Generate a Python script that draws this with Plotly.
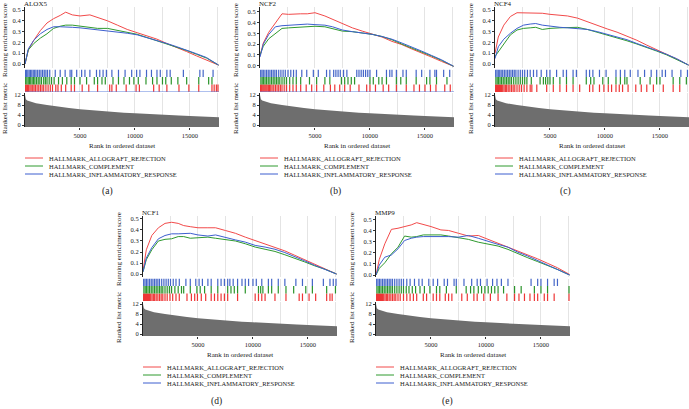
import plotly.graph_objects as go

W, H = 689, 409
XMAX = 17640
FONT = "Liberation Serif, DejaVu Serif, serif"

# ---------------- data ----------------
GENES = ["ALOX5", "NCF2", "NCF4", "NCF1", "MMP9"]
PANEL_LABELS = ["(a)", "(b)", "(c)", "(d)", "(e)"]
SETS = ["HALLMARK_ALLOGRAFT_REJECTION", "HALLMARK_COMPLEMENT", "HALLMARK_INFLAMMATORY_RESPONSE"]

RANK_GRID = [0, 300, 800, 1400, 2000, 2600, 3200, 3700, 4300, 5000, 5900, 6600, 7500, 8400,
             9300, 10200, 11100, 12000, 12900, 13800, 14700, 15600, 16500, 17600]

ALOX5_ALLOGRAFT = [0.0, 0.13, 0.22, 0.31, 0.38, 0.42, 0.45, 0.48, 0.455, 0.445, 0.455, 0.43, 0.40, 0.36,
                   0.32, 0.29, 0.26, 0.23, 0.19, 0.155, 0.115, 0.075, 0.037, -0.01]
ALOX5_COMPLEMENT = [0.0, 0.13, 0.19, 0.24, 0.28, 0.33, 0.35, 0.36, 0.36, 0.35, 0.34, 0.33, 0.33, 0.31,
                    0.29, 0.275, 0.245, 0.215, 0.19, 0.16, 0.125, 0.09, 0.055, -0.01]
ALOX5_INFLAM = [0.0, 0.14, 0.22, 0.28, 0.32, 0.345, 0.345, 0.345, 0.34, 0.335, 0.325, 0.315, 0.305, 0.30,
                0.285, 0.27, 0.245, 0.22, 0.19, 0.16, 0.13, 0.095, 0.06, -0.01]

NCF2_ALLOGRAFT = [0.09, 0.21, 0.31, 0.40, 0.48, 0.475, 0.48, 0.48, 0.48, 0.49, 0.46, 0.43, 0.385, 0.35,
                  0.32, 0.295, 0.265, 0.225, 0.195, 0.155, 0.12, 0.08, 0.04, -0.005]
NCF2_COMPLEMENT = [0.10, 0.18, 0.25, 0.30, 0.345, 0.35, 0.355, 0.36, 0.365, 0.365, 0.36, 0.345, 0.32, 0.315,
                   0.305, 0.29, 0.27, 0.24, 0.20, 0.165, 0.13, 0.09, 0.05, -0.005]
NCF2_INFLAM = [0.08, 0.20, 0.29, 0.36, 0.37, 0.375, 0.375, 0.38, 0.385, 0.38, 0.375, 0.36, 0.33, 0.315,
               0.305, 0.29, 0.27, 0.245, 0.21, 0.175, 0.135, 0.095, 0.055, -0.005]

NCF4_ALLOGRAFT = [0.10, 0.25, 0.36, 0.44, 0.475, 0.475, 0.47, 0.47, 0.47, 0.46, 0.455, 0.445, 0.425, 0.39,
                  0.355, 0.325, 0.295, 0.26, 0.22, 0.175, 0.13, 0.09, 0.048, -0.01]
NCF4_COMPLEMENT = [0.07, 0.115, 0.19, 0.27, 0.315, 0.33, 0.335, 0.34, 0.32, 0.33, 0.335, 0.335, 0.34, 0.32,
                   0.295, 0.265, 0.245, 0.215, 0.185, 0.155, 0.12, 0.085, 0.045, -0.01]
NCF4_INFLAM = [0.05, 0.16, 0.23, 0.285, 0.33, 0.36, 0.37, 0.375, 0.36, 0.35, 0.34, 0.335, 0.33, 0.32,
               0.30, 0.275, 0.25, 0.225, 0.19, 0.16, 0.125, 0.09, 0.05, -0.01]

NCF1_ALLOGRAFT = [0.03, 0.22, 0.35, 0.42, 0.46, 0.47, 0.46, 0.44, 0.43, 0.42, 0.42, 0.42, 0.395, 0.37,
                  0.335, 0.305, 0.275, 0.245, 0.21, 0.17, 0.13, 0.09, 0.05, 0.0]
NCF1_COMPLEMENT = [0.02, 0.13, 0.22, 0.30, 0.315, 0.32, 0.34, 0.34, 0.325, 0.33, 0.335, 0.325, 0.31, 0.30,
                   0.275, 0.245, 0.225, 0.205, 0.175, 0.145, 0.11, 0.075, 0.045, 0.0]
NCF1_INFLAM = [0.02, 0.145, 0.24, 0.32, 0.35, 0.365, 0.365, 0.37, 0.37, 0.355, 0.345, 0.355, 0.33, 0.31,
               0.29, 0.26, 0.245, 0.225, 0.195, 0.16, 0.12, 0.08, 0.045, 0.0]

MMP9_ALLOGRAFT = [0.0, 0.14, 0.28, 0.41, 0.42, 0.435, 0.45, 0.47, 0.455, 0.435, 0.405, 0.40, 0.375, 0.35,
                  0.355, 0.32, 0.29, 0.255, 0.215, 0.18, 0.145, 0.105, 0.065, 0.005]
MMP9_COMPLEMENT = [0.0, 0.06, 0.11, 0.19, 0.25, 0.35, 0.34, 0.345, 0.36, 0.36, 0.36, 0.35, 0.335, 0.32,
                   0.295, 0.28, 0.26, 0.23, 0.19, 0.155, 0.12, 0.085, 0.05, 0.0]
MMP9_INFLAM = [0.0, 0.09, 0.16, 0.18, 0.235, 0.31, 0.33, 0.34, 0.345, 0.345, 0.35, 0.345, 0.34, 0.355,
               0.33, 0.30, 0.275, 0.25, 0.205, 0.17, 0.13, 0.095, 0.055, 0.0]

# gene-set hit positions (rank in ordered dataset)
ALOX5_HITS_ALLOGRAFT = [40, 120, 220, 330, 450, 560, 700, 820, 950, 1100, 1250, 1400, 1550, 1700, 1900, 2100, 2300, 2500,
                        2800, 3000, 3300, 3700, 4200, 4500, 5200, 5800, 6600, 7700, 7900, 8300, 9200, 10100, 10400,
                        11700, 12200, 12900, 14000, 14900, 15800, 17000, 17200, 17400, 17550]
ALOX5_HITS_COMPLEMENT = [60, 170, 290, 400, 520, 650, 780, 900, 1050, 1200, 1350, 1500, 1700, 1850, 2000, 2200, 2400,
                         2650, 3050, 3400, 3800, 4200, 4500, 5000, 5600, 6300, 6600, 7000, 7300, 8000, 8500, 9000,
                         9500, 9900, 10300, 11000, 11600, 12000, 12500, 12800, 13300, 13900, 14700, 15800, 16700, 17000]
ALOX5_HITS_INFLAM = [50, 150, 260, 380, 500, 620, 750, 880, 1000, 1150, 1300, 1450, 1600, 1750, 1900, 2050, 2250, 2750,
                     3200, 3650, 4100, 4250, 4700, 5150, 5450, 5900, 6500, 6800, 7100, 7400, 7900, 8500, 9100, 9700,
                     10150, 10450, 11050, 11500, 12000, 12300, 12900, 13200, 14400, 15900, 16200, 17100]

NCF2_HITS_ALLOGRAFT = [40, 120, 200, 290, 380, 470, 560, 650, 760, 870, 980, 1100, 1250, 1400, 1550, 1700, 1850, 2000,
                       2200, 2400, 2700, 3000, 3300, 3700, 4200, 4700, 5150, 5800, 6400, 6800, 7250, 7700, 8200, 9000,
                       9700, 10000, 10500, 11200, 11700, 12400, 13300, 14000, 14500, 15000, 15500, 16000, 16800, 17300]
NCF2_HITS_COMPLEMENT = [80, 200, 330, 460, 600, 750, 900, 1050, 1200, 1350, 1500, 1650, 1800, 2000, 2200, 2400, 2700,
                        3000, 3300, 3700, 4500, 5150, 5900, 6350, 7400, 7700, 8000, 8300, 8600, 10000, 10300, 10800,
                        11100, 11500, 12400, 12800, 13300, 14200, 15150, 15450, 16050, 17000]
NCF2_HITS_INFLAM = [60, 180, 300, 450, 600, 750, 900, 1050, 1200, 1350, 1500, 1700, 1900, 2100, 2300, 2550, 2800, 3050,
                    3300, 3800, 4250, 4850, 5300, 6050, 6350, 6700, 6900, 7100, 7300, 7600, 7900, 8800, 9000, 9200,
                    9400, 9600, 9800, 10000, 10600, 11500, 11800, 12000, 12400, 13000, 13300, 14200, 14700, 15450,
                    15900, 16050, 16700, 17250]

NCF4_HITS_ALLOGRAFT = [40, 130, 220, 310, 400, 500, 600, 700, 820, 940, 1060, 1200, 1350, 1500, 1650, 1800, 2000, 2200,
                       2400, 2650, 2900, 3200, 3350, 3800, 4700, 5300, 5900, 6500, 7100, 7700, 8600, 8900, 9500, 9900,
                       10300, 10600, 11000, 11300, 11600, 12100, 12800, 13300, 13800, 14400, 15300, 16200, 16800]
NCF4_HITS_COMPLEMENT = [80, 200, 330, 460, 600, 750, 900, 1050, 1200, 1350, 1500, 1700, 1900, 2100, 2300, 2500, 2700,
                        2900, 3300, 4100, 4400, 4600, 4800, 5000, 5300, 5900, 6500, 7100, 8300, 8700, 9000, 9800,
                        10300, 11000, 11400, 11800, 12000, 13200, 14100, 14700, 15000, 16200, 16800, 17400]
NCF4_HITS_INFLAM = [60, 180, 300, 430, 560, 700, 850, 1000, 1150, 1300, 1450, 1600, 1750, 1900, 2100, 2300, 2500, 2700,
                    2950, 3200, 3500, 3800, 4200, 4700, 5000, 5600, 6200, 6500, 7100, 7400, 8300, 8600, 8900, 9500,
                    10100, 11000, 11400, 11800, 12300, 13000, 13600, 14200, 14700, 15200, 15500, 16100, 16900, 17500]

NCF1_HITS_ALLOGRAFT = [40, 130, 220, 310, 400, 500, 600, 700, 820, 940, 1060, 1200, 1350, 1500, 1650, 1800, 2000, 2200,
                       2450, 2700, 3000, 3300, 4000, 4400, 4700, 4950, 5300, 5700, 6200, 6500, 6800, 7100, 7400, 7700,
                       8600, 10200, 10500, 10800, 11100, 12000, 13000, 14200, 14500, 15100, 15700, 16700, 17000, 17200]
NCF1_HITS_COMPLEMENT = [80, 200, 330, 460, 600, 750, 900, 1050, 1200, 1350, 1500, 1650, 1800, 2000, 2200, 2400, 2600,
                        2900, 3200, 3500, 3700, 4300, 4900, 5200, 5600, 6200, 6800, 7700, 8000, 8300, 8600, 9300,
                        10500, 10700, 10900, 11400, 11700, 12300, 13000, 13700, 14800, 15400, 16700, 17500]
NCF1_HITS_INFLAM = [60, 180, 310, 450, 600, 750, 900, 1050, 1200, 1350, 1500, 1700, 1900, 2100, 2300, 2500, 2750, 3000,
                    3300, 3900, 4300, 4800, 5100, 5400, 5900, 6200, 6800, 7100, 7400, 7700, 7900, 8200, 8600, 9000,
                    9300, 9600, 10000, 10300, 10800, 11400, 11700, 12300, 12900, 13900, 14500, 15400, 16400, 17000,
                    17300, 17550]

MMP9_HITS_ALLOGRAFT = [40, 130, 220, 310, 400, 500, 600, 700, 820, 940, 1060, 1200, 1350, 1500, 1650, 1800, 2000, 2200,
                       2500, 2800, 3100, 3400, 3700, 4300, 4600, 5200, 5500, 5800, 6300, 6600, 6900, 7800, 8300, 8900,
                       9200, 9800, 10400, 11100, 11900, 12600, 13000, 13500, 14000, 14400, 14700, 15300, 15600, 16200,
                       17550]
MMP9_HITS_COMPLEMENT = [80, 200, 330, 460, 600, 750, 900, 1050, 1200, 1350, 1500, 1700, 1900, 2100, 2300, 2500, 2750,
                        3000, 3300, 3600, 4000, 4400, 4900, 5500, 5800, 6400, 7300, 8200, 8600, 8900, 9300, 9600, 9900,
                        10200, 10500, 10800, 11100, 11600, 12600, 13200, 14400, 15000, 15600, 17550]
MMP9_HITS_INFLAM = [60, 180, 310, 450, 600, 750, 900, 1050, 1200, 1350, 1500, 1700, 1900, 2100, 2300, 2500, 2800, 3100,
                    3500, 3900, 4200, 4800, 5200, 5600, 6200, 6500, 7100, 7300, 8000, 8700, 9200, 9500, 10100, 10600,
                    11000, 11400, 12000, 14100, 14700, 15000, 15600, 16200, 16500]

# ranked list metric
METRIC_RANK = [0, 30, 80, 200, 500, 1000, 2000, 3000, 4000, 5000, 6000, 7000, 8000, 9000, 10000,
               11000, 12000, 13000, 14000, 15000, 16000, 17000, 17640]
METRIC_VALUE = [12.0, 11.0, 10.3, 9.8, 9.3, 8.7, 8.0, 7.3, 6.8, 6.3, 5.9, 5.5, 5.2, 4.9, 4.7,
                4.4, 4.2, 4.0, 3.8, 3.6, 3.4, 3.2, 3.1]

ES_CURVES = {
    "ALOX5": [ALOX5_ALLOGRAFT, ALOX5_COMPLEMENT, ALOX5_INFLAM],
    "NCF2": [NCF2_ALLOGRAFT, NCF2_COMPLEMENT, NCF2_INFLAM],
    "NCF4": [NCF4_ALLOGRAFT, NCF4_COMPLEMENT, NCF4_INFLAM],
    "NCF1": [NCF1_ALLOGRAFT, NCF1_COMPLEMENT, NCF1_INFLAM],
    "MMP9": [MMP9_ALLOGRAFT, MMP9_COMPLEMENT, MMP9_INFLAM],
}
HITS = {
    "ALOX5": [ALOX5_HITS_ALLOGRAFT, ALOX5_HITS_COMPLEMENT, ALOX5_HITS_INFLAM],
    "NCF2": [NCF2_HITS_ALLOGRAFT, NCF2_HITS_COMPLEMENT, NCF2_HITS_INFLAM],
    "NCF4": [NCF4_HITS_ALLOGRAFT, NCF4_HITS_COMPLEMENT, NCF4_HITS_INFLAM],
    "NCF1": [NCF1_HITS_ALLOGRAFT, NCF1_HITS_COMPLEMENT, NCF1_HITS_INFLAM],
    "MMP9": [MMP9_HITS_ALLOGRAFT, MMP9_HITS_COMPLEMENT, MMP9_HITS_INFLAM],
}

# ---------------- layout constants ----------------
LINE_COLORS = ["#f24a4a", "#2f9a2f", "#3d5fcf"]
RUG_COLORS = ["#ee3535", "#2a942a", "#4466c8"]
# (left px, top offset px, ES y-range, label x px, blue baseline)
PANELS = [
    (25, 0, [-0.037, 0.528], 107, True),
    (260, 0, [-0.021, 0.543], 335, True),
    (495, 0, [-0.037, 0.528], 565, False),
    (143, 209, [-0.027, 0.527], 216, False),
    (376, 209, [-0.018, 0.530], 447, False),
]
PW = 194
RANK_FLOOR = -0.8


def px(p):
    return p / W


def py(p):
    return 1 - p / H


def note(text, x, y, size=7, xanchor="center", angle=0):
    return dict(text=text, x=px(x), y=py(y), xref="paper", yref="paper", xanchor=xanchor,
                yanchor="middle", showarrow=False, textangle=angle, borderpad=0,
                font=dict(size=size, family=FONT))


fig = go.Figure()
layout = dict(width=W, height=H, autosize=False, margin=dict(l=0, r=0, t=0, b=0, pad=0, autoexpand=False),
              paper_bgcolor="white", plot_bgcolor="white", showlegend=False,
              font=dict(family=FONT, size=7, color="#222"))
annotations = []
shapes = []

for i, gene in enumerate(GENES):
    left, top, es_rng, lab_x, baseline = PANELS[i]
    a_es, a_rug, a_rk = 3 * i + 1, 3 * i + 2, 3 * i + 3
    xdom = [px(left), min(1.0, px(left + PW))]
    for a in (a_es, a_rug, a_rk):
        xa = dict(domain=xdom, range=[0, XMAX], anchor="y%d" % a, showline=False, zeroline=False,
                  tickmode="array", tickvals=[5000, 10000, 15000], ticktext=["5000", "10000", "15000"],
                  showgrid=True, gridcolor="#e4e4e4", gridwidth=1,
                  minor=dict(tickmode="array", tickvals=[2500, 7500, 12500, 17500], showgrid=True,
                             gridcolor="#e4e4e4", gridwidth=1, ticks=""),
                  showticklabels=(a == a_rk), ticks="outside" if a == a_rk else "",
                  ticklen=2, tickcolor="#333", tickfont=dict(size=6.5, family=FONT))
        layout["xaxis%d" % a] = xa
    layout["yaxis%d" % a_es] = dict(domain=[py(top + 68), py(top + 7)], range=es_rng, anchor="x%d" % a_es,
                                    tickmode="array", tickvals=[0, 0.1, 0.2, 0.3, 0.4, 0.5],
                                    ticktext=["0.0", "0.1", "0.2", "0.3", "0.4", "0.5"],
                                    showline=True, linecolor="#222", linewidth=1, ticks="outside", ticklen=2,
                                    tickcolor="#333", showgrid=False, zeroline=False,
                                    tickfont=dict(size=6.5, family=FONT))
    layout["yaxis%d" % a_rug] = dict(domain=[py(top + 92), py(top + 69.5)], range=[0, 3], anchor="x%d" % a_rug,
                                     showticklabels=False, showgrid=False, zeroline=False, showline=False)
    layout["yaxis%d" % a_rk] = dict(domain=[py(top + 127), py(top + 93)], range=[RANK_FLOOR, 12.8],
                                    anchor="x%d" % a_rk, tickmode="array", tickvals=[0, 4, 8, 12],
                                    showline=True, linecolor="#222", linewidth=1, ticks="outside", ticklen=2,
                                    tickcolor="#333", showgrid=False, zeroline=False,
                                    tickfont=dict(size=6.5, family=FONT))

    # ranked list metric area
    fig.add_trace(go.Scatter(x=METRIC_RANK + METRIC_RANK[::-1],
                             y=METRIC_VALUE + [RANK_FLOOR] * len(METRIC_RANK),
                             fill="toself", fillcolor="#6e6e6e", line=dict(width=0), mode="lines",
                             xaxis="x%d" % a_rk, yaxis="y%d" % a_rk, hoverinfo="skip"))

    # rug of hits
    for s in range(3):
        xs, ys = [], []
        for r in HITS[gene][s]:
            xs += [r, r, None]
            ys += [s, s + 1, None]
        fig.add_trace(go.Scatter(x=xs, y=ys, mode="lines", line=dict(color=RUG_COLORS[s], width=1.2),
                                 xaxis="x%d" % a_rug, yaxis="y%d" % a_rug, hoverinfo="skip"))
    if baseline:
        shapes.append(dict(type="line", xref="x%d" % a_rug, yref="y%d" % a_rug, x0=0, x1=XMAX, y0=0, y1=0,
                           line=dict(color="#5f80dd", width=1)))

    # running enrichment score curves
    for s in range(3):
        fig.add_trace(go.Scatter(x=RANK_GRID, y=ES_CURVES[gene][s], mode="lines",
                                 line=dict(color=LINE_COLORS[s], width=1),
                                 xaxis="x%d" % a_es, yaxis="y%d" % a_es, name=SETS[s]))

    # texts
    annotations.append(note(gene, left - 2, top + 4, xanchor="left"))
    tx = max(left - 24, 5)
    annotations.append(note("Running enrichment score", tx, top + 40, angle=-90))
    annotations.append(note("Ranked list metric", tx, top + 109, angle=-90))
    annotations.append(note("Rank in ordered dataset", left + PW / 2, top + 146))
    for s in range(3):
        yy = top + 158 + 8 * s
        shapes.append(dict(type="line", xref="paper", yref="paper", x0=px(left), x1=px(left + 18),
                           y0=py(yy), y1=py(yy), line=dict(color=LINE_COLORS[s], width=1)))
        annotations.append(note(SETS[s], left + 23, yy, size=6.5, xanchor="left"))
    annotations.append(note(PANEL_LABELS[i], lab_x, top + 192, size=9.5))

layout["annotations"] = annotations
layout["shapes"] = shapes
fig.update_layout(**layout)
fig.write_html("out.html", config={"responsive": False, "displayModeBar": False},
               post_script="document.body.style.margin='0px';document.body.style.overflow='hidden';")
